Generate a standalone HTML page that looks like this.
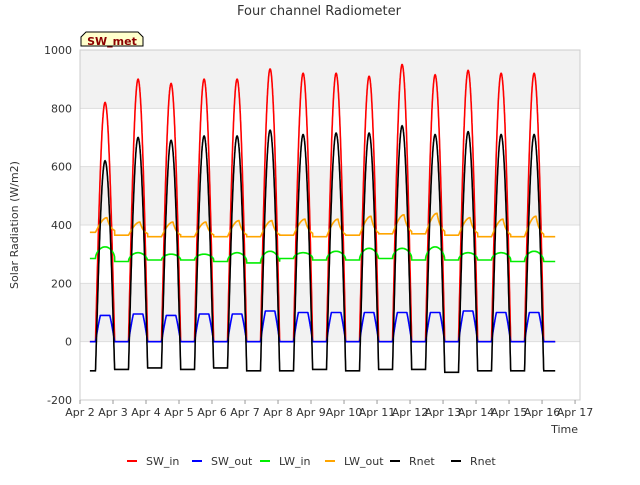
<!DOCTYPE html>
<html><head><meta charset="utf-8"><style>
body{margin:0;background:#fff;font-family:"Liberation Sans","DejaVu Sans",sans-serif}
</style></head><body>
<svg id="c" width="640" height="480" font-family="DejaVu Sans, Liberation Sans, sans-serif">
<text x="319" y="15" text-anchor="middle" font-size="13" fill="#333">Four channel Radiometer</text>
<g id="bands"></g>
<g id="axes"></g>
<g id="series"></g>
<g><path d="M81,46 L81,37 L86,32 L138,32 L143,37 L143,46 Z" fill="#ffffcc" stroke="#000" stroke-width="1"/>
<text x="112" y="45" text-anchor="middle" font-size="11" font-weight="bold" fill="#8b0000">SW_met</text></g>
<text x="18" y="225" text-anchor="middle" font-size="11" fill="#333" transform="rotate(-90 18 225)">Solar Radiation (W/m2)</text>
<text x="578" y="433" text-anchor="end" font-size="11" fill="#333">Time</text>
<g id="legend"></g>
</svg>
<script>
const yTicks=[-200,0,200,400,600,800,1000];
const xTickLabels=["Apr 2","Apr 3","Apr 4","Apr 5","Apr 6","Apr 7","Apr 8","Apr 9","Apr 10","Apr 11","Apr 12","Apr 13","Apr 14","Apr 15","Apr 16","Apr 17"];
const swPeaks=[820,900,885,900,900,935,920,920,910,950,915,930,920,920];
const swOutPeaks=[90,95,90,95,95,105,100,100,100,100,100,105,100,100];
const lwInBase=[285,275,280,280,275,270,285,280,280,285,280,280,280,275];
const lwInPeaks=[325,305,300,300,305,310,305,310,320,320,325,305,305,310];
const lwOutBase=[375,365,360,360,360,360,365,360,365,370,370,365,360,360];
const lwOutPeaks=[425,410,410,410,415,415,420,420,430,435,440,425,420,430];
const rnetPeaks=[620,700,690,705,705,725,710,715,715,740,710,720,710,710];
const rnetNight=[-100,-95,-90,-95,-90,-100,-100,-95,-100,-95,-95,-105,-100,-100];
const X0=80,X1=580,Y0=50,Y1=400;
const xs=d=>X0+d*(X1-X0)/15.15;
const ys=v=>Y1-(v+200)*(Y1-Y0)/1200;
const NS="http://www.w3.org/2000/svg";
function mk(t,p,a){const e=document.createElementNS(NS,t);for(const k in a)e.setAttribute(k,a[k]);p.appendChild(e);return e;}
const bands=document.getElementById('bands'),axes=document.getElementById('axes'),ser=document.getElementById('series'),leg=document.getElementById('legend');
for(let i=0;i<yTicks.length-1;i++){
 const r=mk('rect',bands,{x:X0,y:ys(yTicks[i+1]),width:X1-X0,height:ys(yTicks[i])-ys(yTicks[i+1]),fill:(i%2==0)?'#fff':'#f2f2f2'});
 
 
}
yTicks.forEach(v=>{
 mk('line',axes,{x1:X0,x2:X1,y1:ys(v),y2:ys(v),stroke:'#ddd','stroke-width':1});
 const t=mk('text',axes,{x:X0-8,y:ys(v)+4,'text-anchor':'end','font-size':11,fill:'#333'});t.textContent=v;
 
 
});
mk('rect',axes,{x:X0,y:Y0,width:X1-X0,height:Y1-Y0,fill:'none',stroke:'#ccc'});
xTickLabels.forEach((s,i)=>{
 mk('line',axes,{x1:xs(i),x2:xs(i),y1:Y1,y2:Y1+4,stroke:'#999'});
 const t=mk('text',axes,{x:xs(i),y:Y1+16,'text-anchor':'middle','font-size':11,fill:'#333'});t.textContent=s;
 
 
});
const start=0.3,end=14.4,N=14;
const R0=0.47,W=0.58;
function build(fn){let p='';for(let t=start;t<=end;t+=0.004){p+=(p?'L':'M')+xs(t).toFixed(1)+','+ys(fn(t)).toFixed(1);}return p;}
const sunAt=t=>{let d=Math.floor(t-0.05);if(d<0)d=0;const f=t-d;const k=Math.min(d,N-1);
 const s=(f>R0&&f<R0+W)?Math.sin(Math.PI*(f-R0)/W):0;return {k,s,f};};
const series=[
 ['sw-in','#ff0000',t=>{const o=sunAt(t);return swPeaks[o.k]*o.s;}],
 ['sw-out','#0000ff',t=>{const o=sunAt(t);return swOutPeaks[o.k]*Math.min(1,o.s*1.4);}],
 ['lw-in','#00ee00',t=>{const o=sunAt(t);return lwInBase[o.k]+(lwInPeaks[o.k]-lwInBase[o.k])*Math.sqrt(o.s);}],
 ['lw-out','#ffa500',t=>{const o=sunAt(t);const pk=R0+W*0.6;let g;
  if(o.f<=R0)g=0;else if(o.f<pk)g=Math.sin(Math.PI/2*(o.f-R0)/(pk-R0));else g=Math.exp(-(o.f-pk)*9);
  return lwOutBase[o.k]+(lwOutPeaks[o.k]-lwOutBase[o.k])*g;}],
 ['rnet','#000000',t=>{const o=sunAt(t);const pk=rnetPeaks[o.k],nt=rnetNight[o.k];return nt+(pk-nt)*o.s;}]
];
series.forEach(s=>{const p=mk('path',ser,{d:build(s[2]),fill:'none',stroke:s[1],'stroke-width':1.6});
 
 });
const li=[['SW_in','#ff0000',140],['SW_out','#0000ff',205],['LW_in','#00ee00',273],['LW_out','#ffa500',338],['Rnet','#000000',403],['Rnet','#000000',464]];
li.forEach(l=>{const g=mk('g',leg,{});
 
 
 mk('line',g,{x1:l[2]-13,x2:l[2]-3,y1:461,y2:461,stroke:l[1],'stroke-width':2});
 const t=mk('text',g,{x:l[2]+6,y:465,'font-size':11,fill:'#333'});t.textContent=l[0];});
</script>
</body></html>
